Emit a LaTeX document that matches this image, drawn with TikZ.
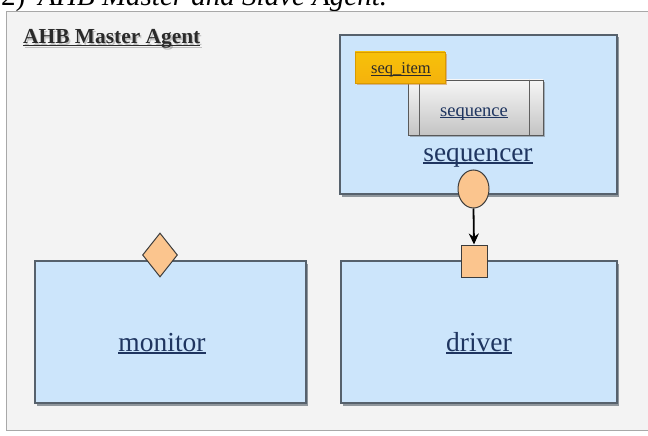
\documentclass[tikz,border=0pt]{standalone}
\usepackage{fontspec}
\setmainfont{Liberation Serif}
\usetikzlibrary{arrows.meta,shapes.geometric,shadows}

\definecolor{panelbg}{HTML}{F3F3F3}
\definecolor{panelline}{HTML}{A8A8A8}
\definecolor{boxfill}{HTML}{CCE5FB}
\definecolor{boxline}{HTML}{56616C}
\definecolor{shadowc}{HTML}{7E868D}
\definecolor{labelc}{HTML}{1F3560}
\definecolor{portfill}{HTML}{FBC58E}
\definecolor{portline}{HTML}{3C3C3C}
\definecolor{itemfill}{HTML}{F5B20C}
\definecolor{itemline}{HTML}{D99A00}
\definecolor{seqtop}{HTML}{F6F6F6}
\definecolor{seqbot}{HTML}{C4C4C4}
\definecolor{titlec}{HTML}{2A2A2A}

% underlined label text, line just under the baseline
\newcommand\ulx[1]{\leavevmode\setbox0\hbox{#1}\rlap{\rule[-0.11em]{\wd0}{0.06em}}\box0}
\newcommand\fs[1]{\fontsize{#1}{#1}\selectfont}

\tikzset{
  compbox/.style={draw=boxline, line width=1.2pt, fill=boxfill, inner sep=0,
    drop shadow={shadow xshift=2pt, shadow yshift=-2.5pt, fill=shadowc, opacity=0.85}},
  portshape/.style={draw=portline, line width=1pt, fill=portfill, inner sep=0},
  lbl/.style={anchor=base, inner sep=0, text=labelc},
}

\begin{document}
\begin{tikzpicture}[x=1pt,y=-1pt]
\useasboundingbox (0,0) rectangle (648,436);
\clip (0,0) rectangle (648,436);
\fill[white] (0,0) rectangle (648,436);

% running heading, cut by the top edge
\node[anchor=base west, inner sep=0, font=\fs{29}] (heading) at (1,6)
  {2)\hspace{0.45em}\textit{AHB Master and Slave Agent.}};

% agent panel
\draw[draw=panelline, fill=panelbg, line width=0.8pt] (6,11) rectangle (662,430);

% title with its soft shadow
\node[anchor=base west, inner sep=0, font=\fs{21.4}\bfseries, text=gray, opacity=0.45] (titleshadow) at (24.5,45.5) {\ulx{AHB Master Agent}};
\node[anchor=base west, inner sep=0, font=\fs{21.4}\bfseries, text=titlec] (title) at (23,44) {\ulx{AHB Master Agent}};

% sequencer
\node[compbox, minimum width=277pt, minimum height=159pt] (seqr) at (478.5,114.5) {};
\node[draw=gray!70!black, line width=0.8pt, top color=seqtop, bottom color=seqbot,
      minimum width=135pt, minimum height=55pt, inner sep=0,
      drop shadow={shadow xshift=1.5pt, shadow yshift=-2pt, fill=shadowc, opacity=0.6}]
      (seq) at (475.5,107.5) {};
\draw[gray!75!black, line width=0.6pt] ([xshift=12pt]seq.north west) -- ([xshift=12pt]seq.south west);
\draw[gray!75!black, line width=0.6pt] ([xshift=-14pt]seq.north east) -- ([xshift=-14pt]seq.south east);
\node[lbl, font=\fs{18.5}] (seqlabel) at (474,116) {\ulx{sequence}};

\node[draw=itemline, line width=0.8pt, top color=itemfill!80!yellow, bottom color=itemfill,
      minimum width=90pt, minimum height=31pt, inner sep=0,
      drop shadow={shadow xshift=1.5pt, shadow yshift=-2pt, fill=orange!60!gray, opacity=0.5}]
      (item) at (400,67.5) {};
\node[lbl, font=\fs{16.5}, text=titlec] (itemlabel) at (401,74) {\ulx{seq\_item}};

\node[lbl, font=\fs{27.3}] (seqrlabel) at (478,161) {\ulx{sequencer}};

% monitor and driver
\node[compbox, minimum width=271pt, minimum height=142pt] (mon) at (170.5,332) {};
\node[lbl, font=\fs{27.5}] (monlabel) at (162,351) {\ulx{monitor}};

\node[compbox, minimum width=276pt, minimum height=142pt] (drv) at (479,332) {};
\node[lbl, font=\fs{27.5}] (drvlabel) at (479,351) {\ulx{driver}};

% ports
\node[portshape, ellipse, minimum width=31pt, minimum height=38pt] (seqport) at (473.5,189) {};
\node[portshape, rectangle, minimum width=26pt, minimum height=32pt] (drvport) at (474,261) {};
\node[portshape, diamond, minimum width=35pt, minimum height=44pt] (monport) at (160,255) {};

% item connection
\draw[-{Stealth[length=11pt,width=10pt]}, line width=1.8pt] (seqport.south) -- (drvport.north);
\end{tikzpicture}
\end{document}
